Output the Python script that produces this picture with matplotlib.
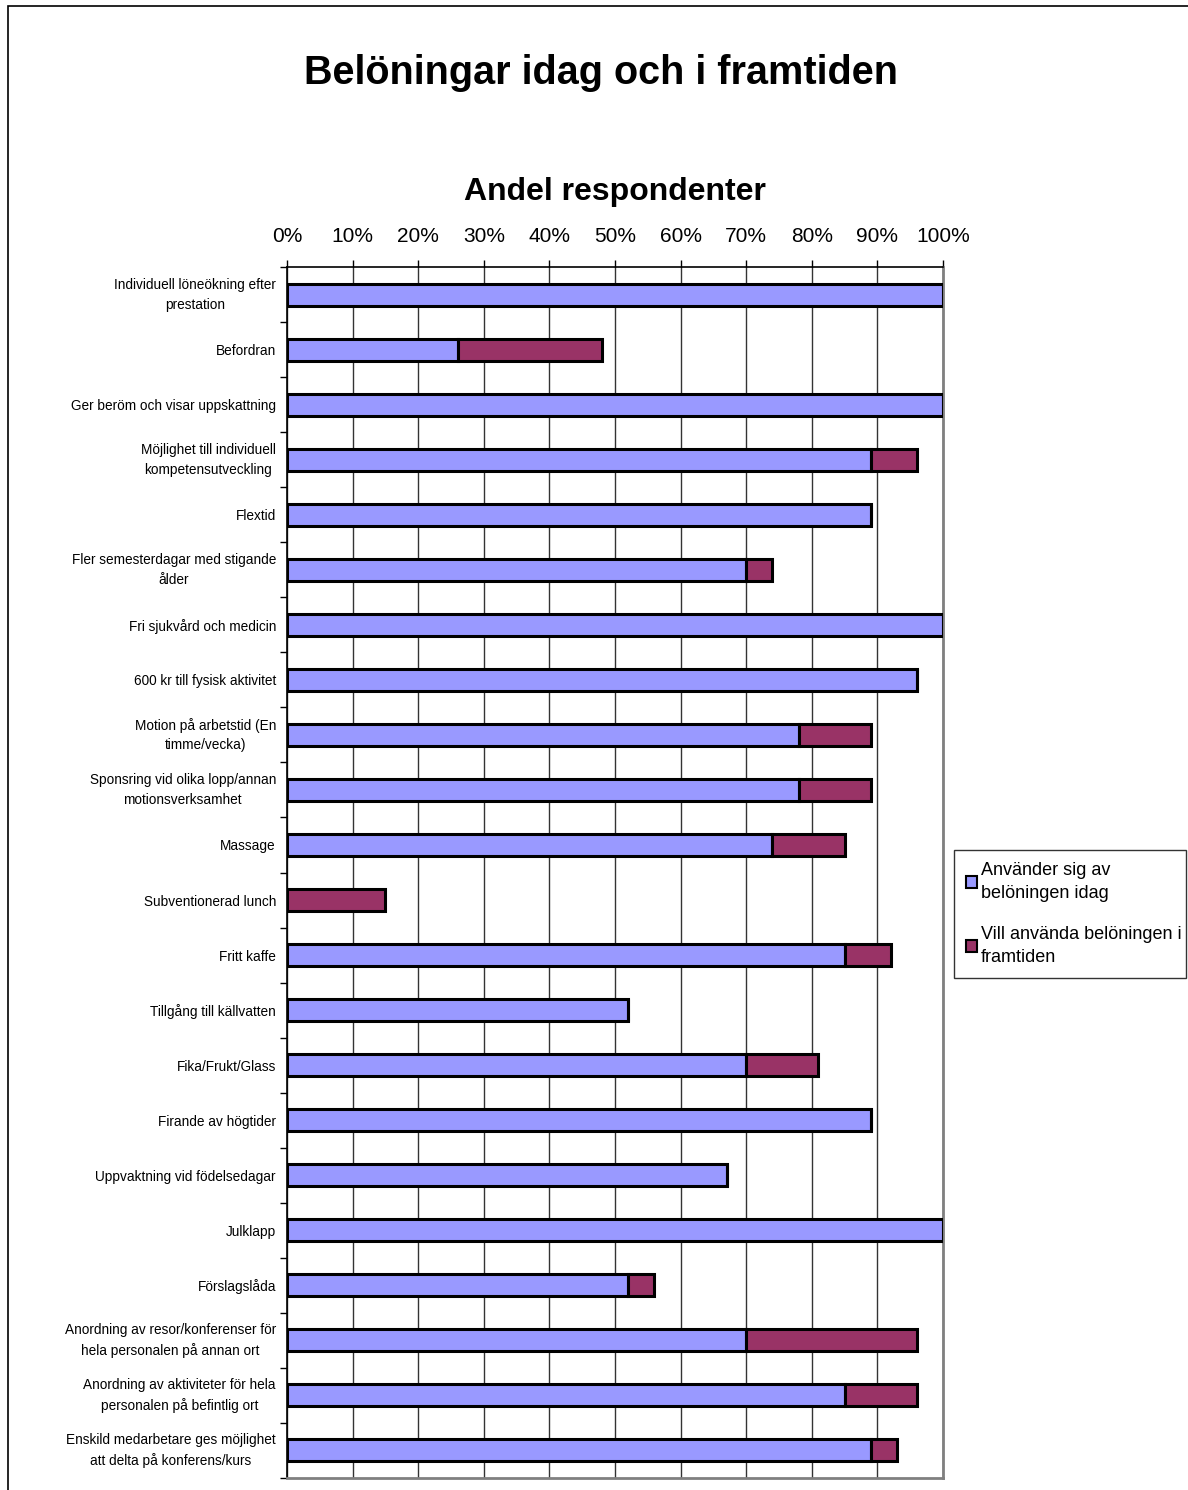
import matplotlib
matplotlib.use("Agg")
import matplotlib.pyplot as plt
import matplotlib.transforms as mtransforms
import numpy as np
from matplotlib.patches import Rectangle
from matplotlib.ticker import FixedLocator, PercentFormatter

categories = [
    "Individuell löneökning efter\nprestation",
    "Befordran",
    "Ger beröm och visar uppskattning",
    "Möjlighet till individuell\nkompetensutveckling",
    "Flextid",
    "Fler semesterdagar med stigande\nålder",
    "Fri sjukvård och medicin",
    "600 kr till fysisk aktivitet",
    "Motion på arbetstid (En\ntimme/vecka)",
    "Sponsring vid olika lopp/annan\nmotionsverksamhet",
    "Massage",
    "Subventionerad lunch",
    "Fritt kaffe",
    "Tillgång till källvatten",
    "Fika/Frukt/Glass",
    "Firande av högtider",
    "Uppvaktning vid födelsedagar",
    "Julklapp",
    "Förslagslåda",
    "Anordning av resor/konferenser för\nhela personalen på annan ort",
    "Anordning av aktiviteter för hela\npersonalen på befintlig ort",
    "Enskild medarbetare ges möjlighet\natt delta på konferens/kurs",
]
today = [100, 26, 100, 89, 89, 70, 100, 96, 78, 78, 74, 0, 85, 52, 70, 89, 67, 100, 52, 70, 85, 89]
future = [0, 22, 0, 7, 0, 4, 0, 0, 11, 11, 11, 15, 7, 0, 11, 0, 0, 0, 4, 26, 11, 4]
series_names = ["Använder sig av\nbelöningen idag", "Vill använda belöningen i\nframtiden"]
xticks = [0, 10, 20, 30, 40, 50, 60, 70, 80, 90, 100]

plt.rcParams['font.family'] = ['Liberation Sans', 'DejaVu Sans']

W, H = 1188, 1490
fig = plt.figure(figsize=(W / 100, H / 100), dpi=100)
ax = fig.add_axes([287 / W, 1 - 1478 / H, (943 - 287) / W, (1478 - 267) / H])

n = len(categories)
y = np.arange(n)
blue = "#9999FF"
maroon = "#993366"
ax.barh(y, today, height=0.4, color=blue, edgecolor="black", linewidth=2.2,
        label=series_names[0], zorder=3)
ax.barh(y, future, left=today, height=0.4, color=maroon, edgecolor="black",
        linewidth=2.2, label=series_names[1], zorder=3)

ax.set_xlim(0, 100)
ax.set_ylim(n - 0.5, -0.5)

ax.xaxis.tick_top()
ax.set_xticks(xticks)
ax.xaxis.set_major_formatter(PercentFormatter(decimals=0))
ax.tick_params(axis='x', which='major', length=5, width=1, pad=10, labelsize=15, colors='black')
ax.grid(axis='x', color='#333333', linewidth=1, zorder=0)

ax.set_yticks(y)
ax.set_yticklabels(categories, fontsize=9.8, multialignment='center', linespacing=1.5)
ax.tick_params(axis='y', which='major', length=0, pad=8)
ax.yaxis.set_minor_locator(FixedLocator(np.arange(n + 1) - 0.5))
ax.tick_params(axis='y', which='minor', length=5, width=1)

shift = mtransforms.ScaledTranslation(0, 4 / 100, fig.dpi_scale_trans)
for lbl in ax.get_yticklabels():
    if "\n" in lbl.get_text():
        lbl.set_transform(lbl.get_transform() + shift)

for s in ['left', 'top']:
    ax.spines[s].set_color('black')
    ax.spines[s].set_linewidth(1.2)
for s in ['right', 'bottom']:
    ax.spines[s].set_color('#808080')
    ax.spines[s].set_linewidth(2)

fig.text(601 / W, 1 - 73 / H, "Belöningar idag och i framtiden", ha='center', va='center',
         fontsize=28.5, fontweight='bold')
fig.text(615 / W, 1 - 192 / H, "Andel respondenter", ha='center', va='center',
         fontsize=23, fontweight='bold')

leg = fig.legend(loc='upper left',
                 bbox_to_anchor=(954 / W, 1 - 978 / H, 232 / W, 128 / H),
                 mode='expand', fontsize=13,
                 frameon=True, fancybox=False, edgecolor='black', handlelength=0.65,
                 handleheight=0.65, handletextpad=0.2, labelspacing=1.35, borderpad=0.65,
                 borderaxespad=0)
leg.get_frame().set_linewidth(1)
for t in leg.get_texts():
    t.set_linespacing(1.45)
for h in leg.legend_handles:
    h.set_linewidth(1.5)

fig.patches.append(Rectangle((8 / W, -0.1), 1.2, 1 - 6 / H + 0.1, transform=fig.transFigure,
                             fill=False, edgecolor='black', linewidth=1.2))

fig.savefig("out.png", dpi=100)
